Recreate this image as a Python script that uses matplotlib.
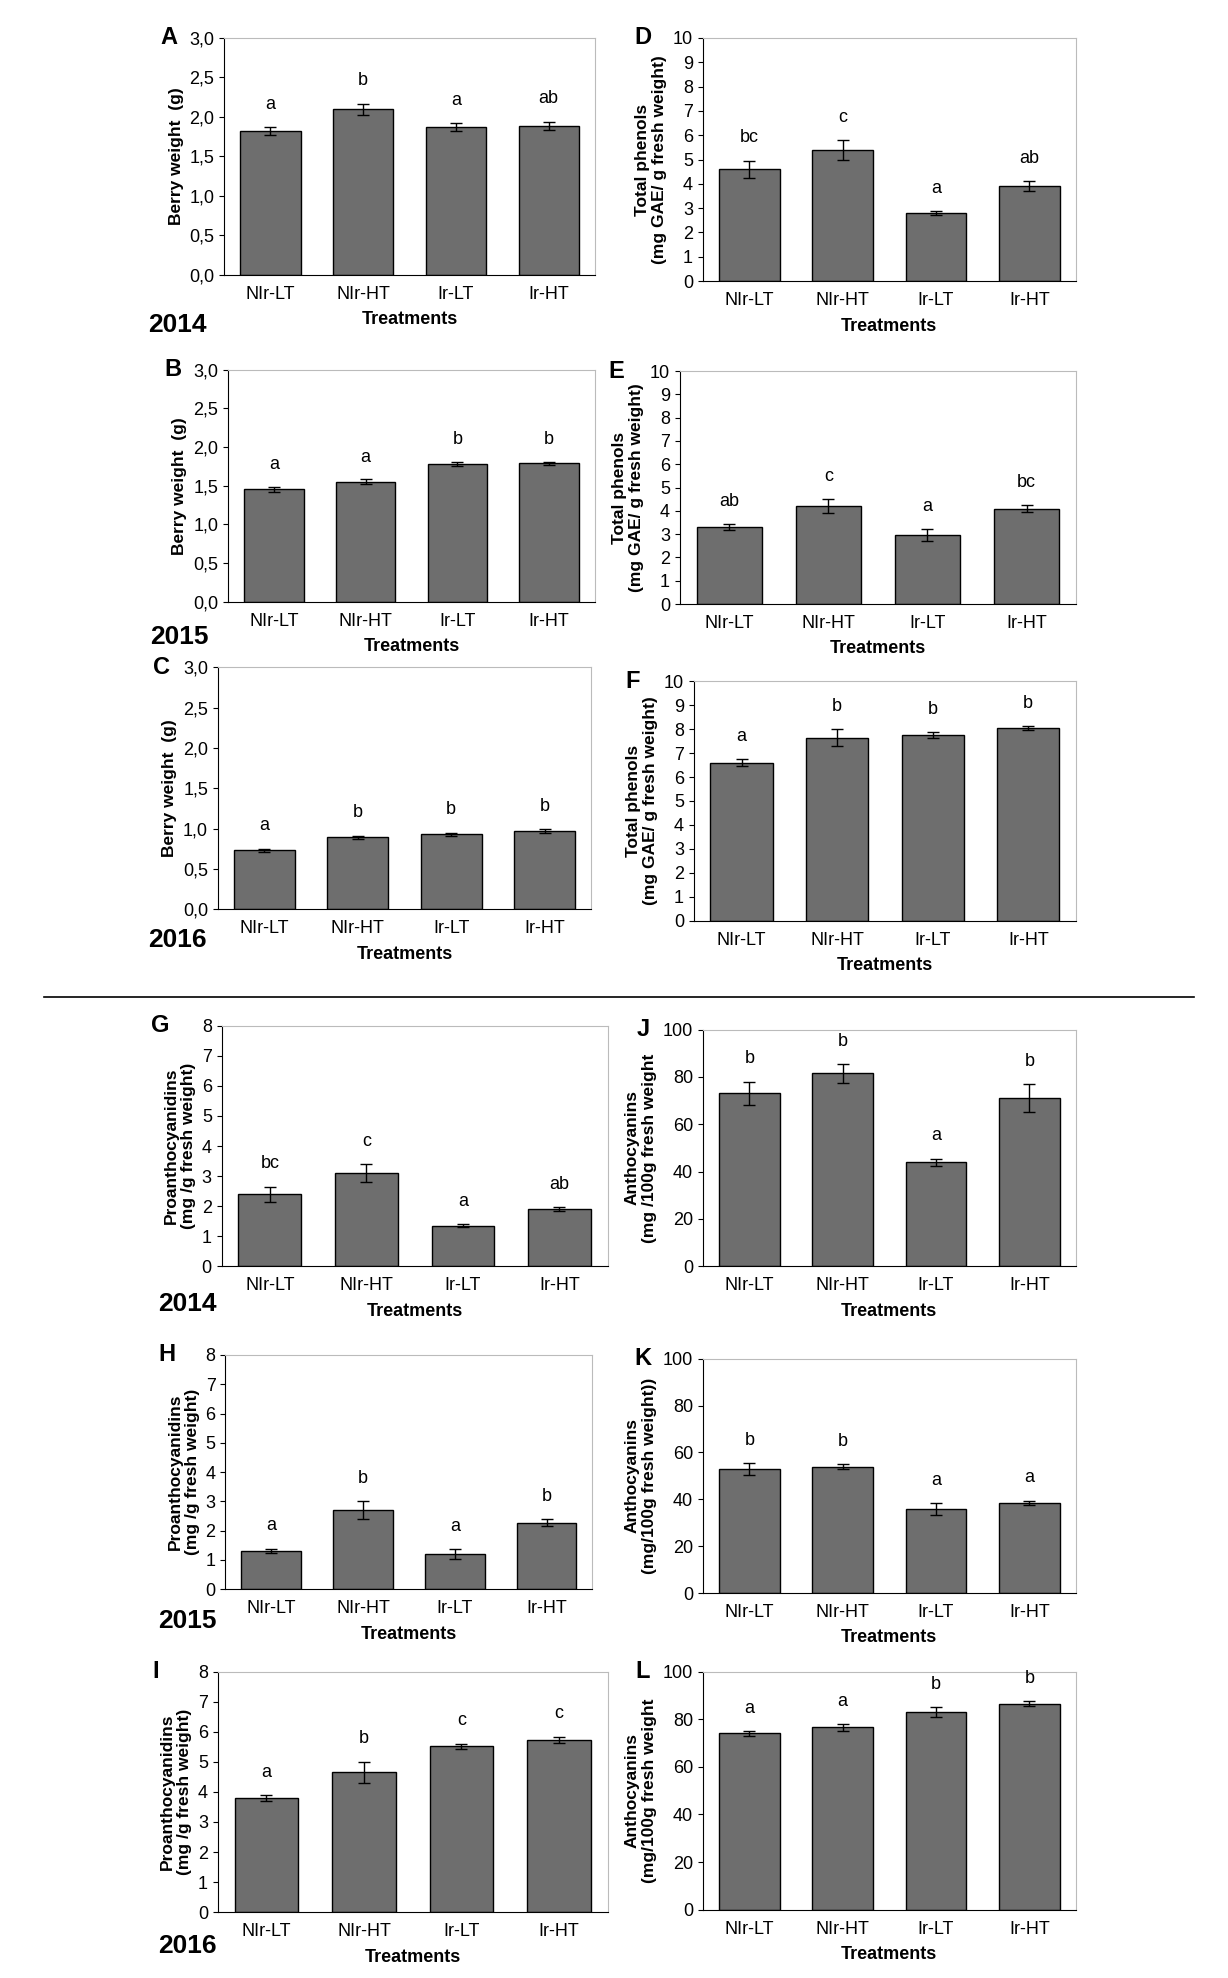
import matplotlib.pyplot as plt
from matplotlib.ticker import FuncFormatter

W, H = 970.0, 1562.0
treat = ["NIr-LT", "NIr-HT", "Ir-LT", "Ir-HT"]

bw14 = [1.82, 2.10, 1.87, 1.89]; bw14_e = [0.05, 0.07, 0.05, 0.05]; bw14_l = ["a", "b", "a", "ab"]
bw15 = [1.45, 1.55, 1.78, 1.79]; bw15_e = [0.03, 0.03, 0.03, 0.02]; bw15_l = ["a", "a", "b", "b"]
bw16 = [0.73, 0.89, 0.93, 0.97]; bw16_e = [0.02, 0.02, 0.02, 0.02]; bw16_l = ["a", "b", "b", "b"]
tp14 = [4.6, 5.4, 2.8, 3.9]; tp14_e = [0.35, 0.4, 0.08, 0.2]; tp14_l = ["bc", "c", "a", "ab"]
tp15 = [3.3, 4.2, 2.95, 4.1]; tp15_e = [0.12, 0.3, 0.25, 0.15]; tp15_l = ["ab", "c", "a", "bc"]
tp16 = [6.6, 7.65, 7.75, 8.05]; tp16_e = [0.15, 0.35, 0.12, 0.08]; tp16_l = ["a", "b", "b", "b"]
pa14 = [2.4, 3.1, 1.35, 1.9]; pa14_e = [0.25, 0.3, 0.05, 0.07]; pa14_l = ["bc", "c", "a", "ab"]
pa15 = [1.32, 2.7, 1.2, 2.27]; pa15_e = [0.07, 0.3, 0.17, 0.12]; pa15_l = ["a", "b", "a", "b"]
pa16 = [3.78, 4.65, 5.52, 5.73]; pa16_e = [0.1, 0.35, 0.08, 0.1]; pa16_l = ["a", "b", "c", "c"]
an14 = [73, 81.5, 44, 71]; an14_e = [5, 4, 1.5, 6]; an14_l = ["b", "b", "a", "b"]
an15 = [53, 54, 36, 38.5]; an15_e = [2.5, 1, 2.5, 1]; an15_l = ["b", "b", "a", "a"]
an16 = [74, 76.5, 83, 86.5]; an16_e = [1, 1.5, 2, 1]; an16_l = ["a", "a", "b", "b"]

bw_lab = "Berry weight  (g)"
tp_lab = "Total phenols\n(mg GAE/ g fresh weight)"
pa_lab = "Proanthocyanidins\n(mg /g fresh weight)"

panels = [
    ("A", (177, 30, 470, 217), bw14, bw14_e, bw14_l, 3.0, 0.5, bw_lab, True),
    ("B", (180, 292, 470, 475), bw15, bw15_e, bw15_l, 3.0, 0.5, bw_lab, True),
    ("C", (172, 527, 467, 718), bw16, bw16_e, bw16_l, 3.0, 0.5, bw_lab, True),
    ("D", (555, 30, 850, 222), tp14, tp14_e, tp14_l, 10, 1, tp_lab, False),
    ("E", (537, 293, 850, 477), tp15, tp15_e, tp15_l, 10, 1, tp_lab, False),
    ("F", (548, 538, 850, 727), tp16, tp16_e, tp16_l, 10, 1, tp_lab, False),
    ("G", (175, 810, 480, 1000), pa14, pa14_e, pa14_l, 8, 1, pa_lab, False),
    ("H", (178, 1070, 468, 1255), pa15, pa15_e, pa15_l, 8, 1, pa_lab, False),
    ("I", (172, 1320, 480, 1510), pa16, pa16_e, pa16_l, 8, 1, pa_lab, False),
    ("J", (555, 813, 850, 1000), an14, an14_e, an14_l, 100, 20, "Anthocyanins\n(mg /100g fresh weight", False),
    ("K", (555, 1073, 850, 1258), an15, an15_e, an15_l, 100, 20, "Anthocyanins\n(mg/100g fresh weight))", False),
    ("L", (555, 1320, 850, 1508), an16, an16_e, an16_l, 100, 20, "Anthocyanins\n(mg/100g fresh weight", False),
]

fig = plt.figure(figsize=(12.28, 19.78), dpi=100)
plt.rcParams['font.family'] = ['Liberation Sans', 'DejaVu Sans']

for letter, (x0, y0, x1, y1), vals, errs, labs, ymax, step, ylab, comma in panels:
    ax = fig.add_axes([x0 / W, 1 - y1 / H, (x1 - x0) / W, (y1 - y0) / H])
    xs = range(len(treat))
    ax.bar(xs, vals, width=0.65, color="#6e6e6e", edgecolor="black", linewidth=1)
    ax.errorbar(xs, vals, yerr=errs, fmt="none", ecolor="black", capsize=4, elinewidth=1)
    for x, v, e, t in zip(xs, vals, errs, labs):
        ax.text(x, v + e + ymax * 0.06, t, ha="center", va="bottom", fontsize=13)
    ax.set_ylim(0, ymax)
    ax.set_xlim(-0.5, 3.5)
    n = int(round(ymax / step))
    ax.set_yticks([i * step for i in range(n + 1)])
    if comma:
        ax.yaxis.set_major_formatter(FuncFormatter(lambda v, p: f"{v:.1f}".replace(".", ",")))
    ax.set_xticks(list(xs))
    ax.set_xticklabels(treat, fontsize=13)
    ax.tick_params(axis="y", labelsize=13)
    ax.tick_params(axis="x", length=0, pad=8)
    for s in ("top", "right"):
        ax.spines[s].set_color("#bbbbbb")
    ax.set_xlabel("Treatments", fontsize=13, fontweight="bold", labelpad=6)
    ax.set_ylabel(ylab, fontsize=12.5, fontweight="bold")
    ax.text(-0.15 if comma else -0.16, 1.0, letter, transform=ax.transAxes, fontsize=17,
            fontweight="bold", ha="center", va="center")

for yr, (x, y) in zip(["2014", "2015", "2016", "2014", "2015", "2016"],
                      [(140, 257), (142, 503), (140, 742), (148, 1030), (148, 1280), (148, 1537)]):
    fig.text(x / W, 1 - y / H, yr, fontsize=19, fontweight="bold", ha="center", va="center")

fig.add_artist(plt.Line2D([35 / W, 943 / W], [1 - 787 / H] * 2, color="black", lw=1.2))

fig.savefig("out.png", dpi=100, facecolor="white")
